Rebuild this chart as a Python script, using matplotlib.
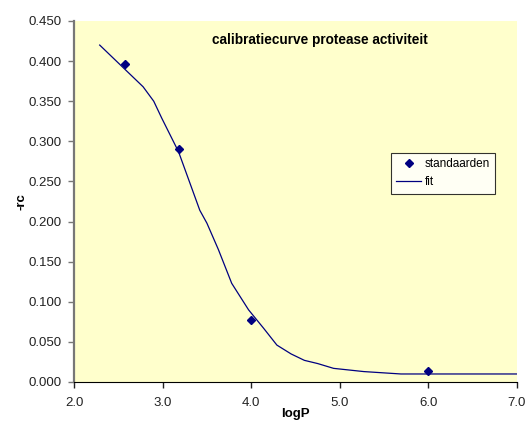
import matplotlib
matplotlib.use('Agg')
import matplotlib.pyplot as plt

plt.rcParams['font.family'] = ['Liberation Sans', 'DejaVu Sans']

# measured standards
std_logp = [2.58, 3.18, 4.0, 6.0]
std_rc = [0.396, 0.290, 0.077, 0.014]

# fitted curve
fit_logp = [2.29, 2.78, 2.90, 2.99, 3.18, 3.42, 3.50, 3.63, 3.78, 3.97, 4.14,
            4.29, 4.45, 4.60, 4.75, 4.93, 5.27, 5.69, 7.0]
fit_rc = [0.420, 0.368, 0.350, 0.329, 0.287, 0.214, 0.198, 0.165, 0.123, 0.090, 0.067,
          0.046, 0.035, 0.027, 0.023, 0.017, 0.013, 0.010, 0.010]

xticks = [2.0, 3.0, 4.0, 5.0, 6.0, 7.0]
yticks = [0.0, 0.05, 0.10, 0.15, 0.20, 0.25, 0.30, 0.35, 0.40, 0.45]

fig = plt.figure(figsize=(5.28, 4.21), dpi=100)
ax = fig.add_axes([74 / 528, 1 - 382 / 421, 443 / 528, 361 / 421])
ax.set_facecolor('#FFFFCC')

ax.plot(std_logp, std_rc, linestyle='none', marker='D', markersize=4.5,
        color='#000080', label='standaarden', zorder=3)
ax.plot(fit_logp, fit_rc, color='#000080', lw=0.9, label='fit', zorder=2)

ax.set_xlim(2.0, 7.0)
ax.set_ylim(0.0, 0.45)
ax.set_xticks(xticks)
ax.set_yticks(yticks)
ax.set_xticklabels(['%.1f' % t for t in xticks])
ax.set_yticklabels(['%.3f' % t for t in yticks])
ax.tick_params(labelsize=9.5, length=4, width=1, colors='#222222')
ax.tick_params(axis='y', color='#777777', pad=5)
ax.tick_params(axis='x', pad=7)

for s in ['top', 'right']:
    ax.spines[s].set_visible(False)
ax.spines['left'].set_color('#777777')
ax.spines['left'].set_linewidth(1.6)
ax.spines['bottom'].set_color('black')

ax.text(0.556, 0.947, 'calibratiecurve protease activiteit', transform=ax.transAxes,
        ha='center', va='center', fontsize=9.8, fontweight='bold')

# x label sits right at the bottom edge, as in the original
ax.set_xlabel('logP', fontsize=9.5, fontweight='bold')
ax.xaxis.set_label_coords(0.5, -0.072)
ax.set_ylabel('-rc', fontsize=9.5, fontweight='bold')
ax.yaxis.set_label_coords(-0.105, 0.50)

leg = ax.legend(loc='upper left', bbox_to_anchor=((391 - 74) / 443, (382 - 153) / 361),
                fontsize=8.5, frameon=True, fancybox=False, borderaxespad=0,
                handlelength=2.1, borderpad=0.45, labelspacing=0.5, handletextpad=0.3)
leg.get_frame().set_edgecolor('black')
leg.get_frame().set_linewidth(0.8)
leg.get_frame().set_facecolor('white')

fig.savefig('out.png', dpi=100)
